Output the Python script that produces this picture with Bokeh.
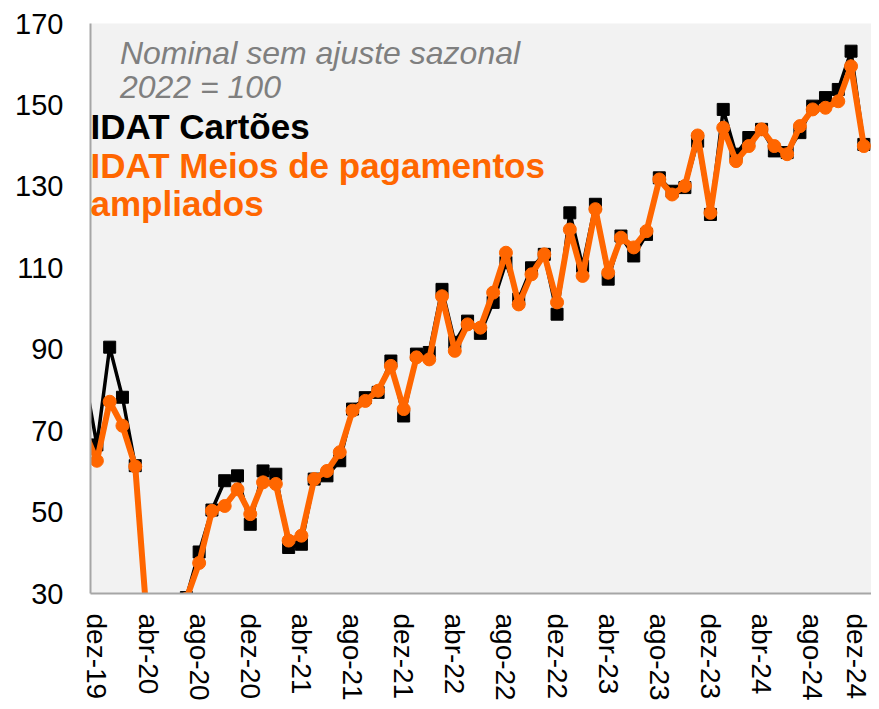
import math
from bokeh.plotting import figure
from bokeh.models import ColumnDataSource, Range1d, FixedTicker, Label
from bokeh.embed import file_html
from bokeh.resources import INLINE

# ---- data ----
months = ["nov-19",
          "dez-19", "jan-20", "fev-20", "mar-20", "abr-20", "mai-20", "jun-20", "jul-20", "ago-20", "set-20", "out-20", "nov-20",
          "dez-20", "jan-21", "fev-21", "mar-21", "abr-21", "mai-21", "jun-21", "jul-21", "ago-21", "set-21", "out-21", "nov-21",
          "dez-21", "jan-22", "fev-22", "mar-22", "abr-22", "mai-22", "jun-22", "jul-22", "ago-22", "set-22", "out-22", "nov-22",
          "dez-22", "jan-23", "fev-23", "mar-23", "abr-23", "mai-23", "jun-23", "jul-23", "ago-23", "set-23", "out-23", "nov-23",
          "dez-23", "jan-24", "fev-24", "mar-24", "abr-24", "mai-24", "jun-24", "jul-24", "ago-24", "set-24", "out-24", "nov-24",
          "dez-24"]

idat_cartoes = [84.0,
                66.5, 90.5, 78.2, 61.4, 20.0, 22.0, 26.0, 29.0, 40.2, 50.5, 57.7, 58.9,
                47.0, 60.1, 59.3, 41.3, 42.1, 58.1, 58.9, 62.6, 75.3, 78.1, 79.4, 87.1,
                73.6, 88.8, 89.2, 104.7, 91.7, 96.9, 93.9, 101.5, 111.3, 102.3, 110.0, 113.3,
                98.6, 123.5, 110.4, 125.6, 107.2, 117.8, 112.9, 118.2, 132.1, 128.8, 129.7, 141.1,
                123.1, 148.9, 137.9, 142.0, 144.0, 138.7, 138.3, 143.2, 149.7, 151.8, 153.8, 163.2,
                140.3]

idat_ampliados = [70.0,
                  62.6, 77.1, 71.2, 61.2, 20.0, 22.0, 26.0, 28.7, 37.5, 50.3, 51.5, 55.6,
                  49.5, 57.3, 56.9, 43.0, 44.2, 58.1, 60.1, 64.7, 74.9, 77.3, 79.8, 85.9,
                  75.3, 88.0, 87.5, 103.0, 89.6, 96.1, 95.3, 103.9, 113.7, 101.0, 108.4, 113.3,
                  101.5, 119.4, 108.0, 124.4, 108.8, 117.4, 115.0, 119.0, 131.7, 128.0, 130.1, 142.5,
                  123.5, 144.4, 136.2, 139.9, 144.0, 139.9, 137.9, 144.8, 148.9, 149.3, 150.9, 159.5,
                  139.9]

tick_labels = ["dez-19", "abr-20", "ago-20", "dez-20", "abr-21", "ago-21", "dez-21", "abr-22",
               "ago-22", "dez-22", "abr-23", "ago-23", "dez-23", "abr-24", "ago-24", "dez-24"]
y_ticks = [30, 50, 70, 90, 110, 130, 150, 170]

# index: dez-19 = 0
xs = list(range(-1, len(months) - 1))
src = ColumnDataSource(dict(x=xs, m=months, cart=idat_cartoes, ampl=idat_ampliados))

ORANGE = "#ff6600"
FONT = "Liberation Sans"

p = figure(width=871, height=703, output_backend="svg", toolbar_location=None,
           x_range=Range1d(-0.5, 60.6), y_range=Range1d(30, 170),
           min_border_left=90, min_border_right=0, min_border_top=23, min_border_bottom=109,
           background_fill_color="#f2f2f2", border_fill_color="white", outline_line_color=None)

p.xgrid.visible = False
p.ygrid.visible = False

# series
p.line("x", "cart", source=src, line_color="black", line_width=3.5)
p.scatter("x", "cart", source=src, marker="square", size=12, fill_color="black", line_color="black")
p.line("x", "ampl", source=src, line_color=ORANGE, line_width=6)
p.scatter("x", "ampl", source=src, marker="circle", size=13, fill_color=ORANGE, line_color=ORANGE)

# axes
tick_pos = [months.index(t) - 1 for t in tick_labels]
p.xaxis.ticker = FixedTicker(ticks=tick_pos)
p.xaxis.major_label_overrides = {tp: lab for tp, lab in zip(tick_pos, tick_labels)}
p.xaxis.major_label_orientation = -math.pi / 2
p.yaxis.ticker = FixedTicker(ticks=y_ticks)
for ax in (p.xaxis, p.yaxis):
    ax.axis_line_color = "#a6a6a6"
    ax.axis_line_width = 2
    ax.major_tick_line_color = None
    ax.minor_tick_line_color = None
    ax.major_label_text_font = FONT
    ax.major_label_text_color = "black"
p.xaxis.major_label_text_font_size = "28px"
p.yaxis.major_label_text_font_size = "29px"
p.yaxis.major_label_standoff = 21
p.xaxis.major_label_standoff = 14

# annotations
p.add_layout(Label(x=1.8, y=162.8, text="Nominal sem ajuste sazonal", text_font=FONT,
                   text_font_size="32px", text_font_style="italic", text_color="#7f7f7f",
                   text_baseline="alphabetic"))
p.add_layout(Label(x=1.8, y=154.4, text="2022 = 100", text_font=FONT,
                   text_font_size="32px", text_font_style="italic", text_color="#7f7f7f",
                   text_baseline="alphabetic"))
p.add_layout(Label(x=-0.5, y=144.7, text="IDAT Cartões", text_font=FONT,
                   text_font_size="35px", text_font_style="bold", text_color="black",
                   text_baseline="alphabetic"))
p.add_layout(Label(x=-0.5, y=135.2, text="IDAT Meios de pagamentos", text_font=FONT,
                   text_font_size="35px", text_font_style="bold", text_color=ORANGE,
                   text_baseline="alphabetic"))
p.add_layout(Label(x=-0.5, y=125.9, text="ampliados", text_font=FONT,
                   text_font_size="35px", text_font_style="bold", text_color=ORANGE,
                   text_baseline="alphabetic"))

open("out.html", "w").write(file_html(p, INLINE))
